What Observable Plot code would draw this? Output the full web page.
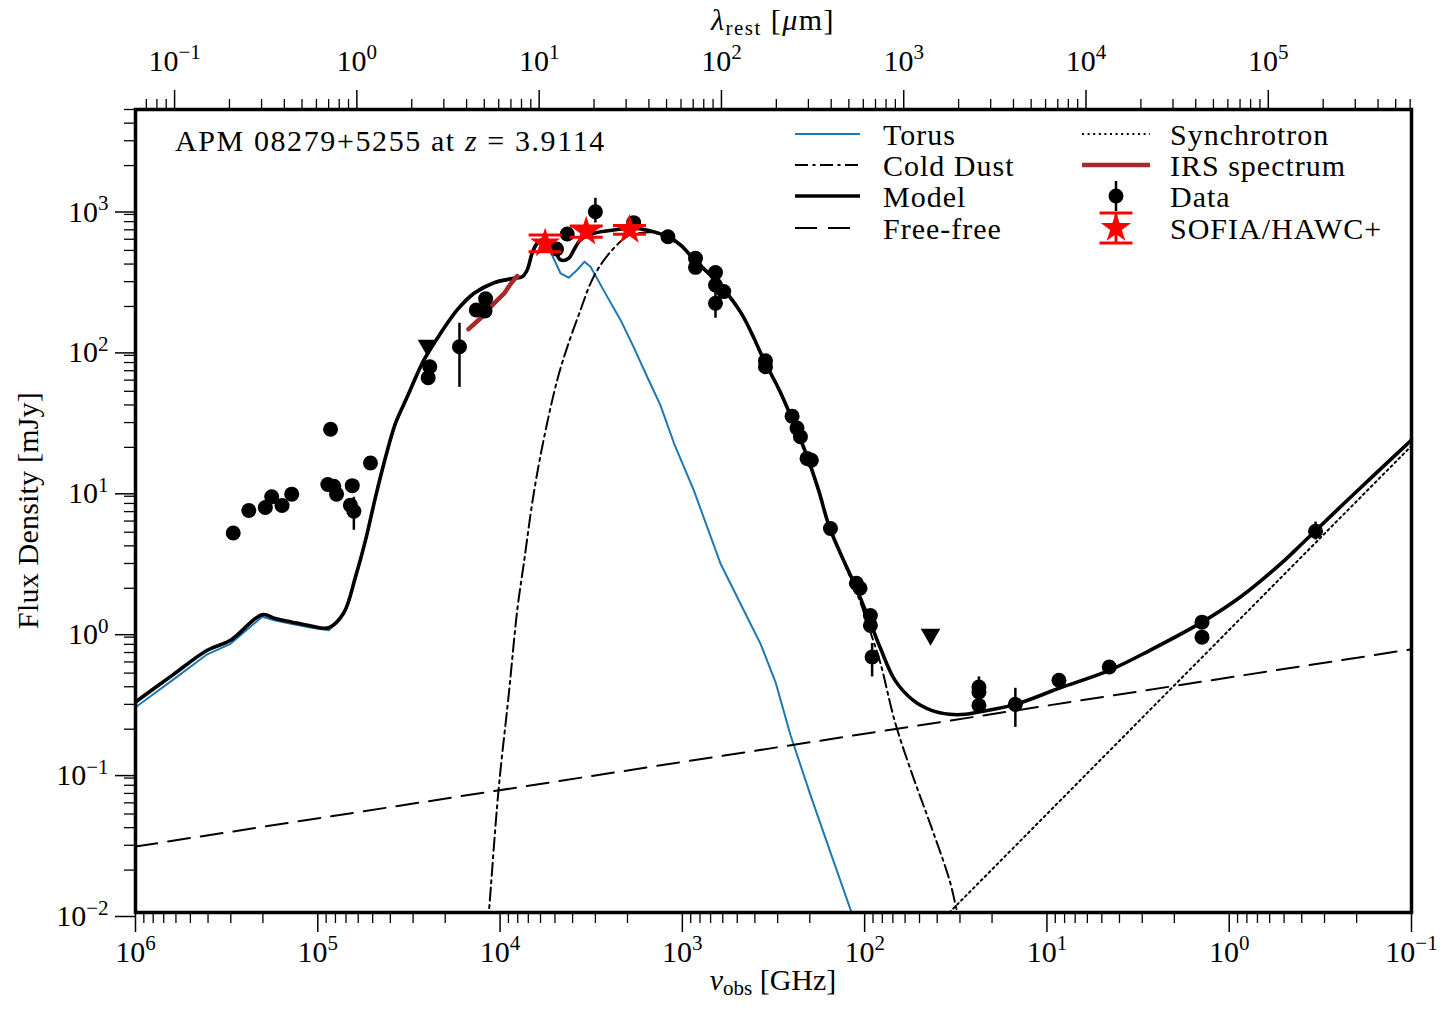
<!DOCTYPE html>
<html>
<head>
<meta charset="utf-8">
<script src="https://cdn.jsdelivr.net/npm/d3@7"></script>
<script src="https://cdn.jsdelivr.net/npm/@observablehq/plot@0.6"></script>
<style>
  html, body { margin: 0; padding: 0; background: #fff; }
  #chart svg { display: block; }
</style>
</head>
<body>
<div id="chart"></div>
<script>
// ---- Source & constants -------------------------------------------------
const REDSHIFT = 3.9114;
const C_UM_GHZ = 299792.458;            // speed of light in μm·GHz
const lamRestFromNu = nu => C_UM_GHZ / ((1 + REDSHIFT) * nu);   // same form both ways
const nuFromLamRest = lam => C_UM_GHZ / ((1 + REDSHIFT) * lam);

// ---- Model components: [ν_obs (GHz), flux density (mJy)] ----------------
const model = [
  [1e6, 0.312], [6.29e5, 0.482], [4.04e5, 0.726], [3.01e5, 0.855], [2.02e5, 1.30],
  [1.71e5, 1.22], [1.38e5, 1.15], [1.12e5, 1.09], [8.70e4, 1.05], [7.20e4, 1.34],
  [6.21e4, 2.41], [5.47e4, 4.39], [4.82e4, 8.91], [4.25e4, 17.0], [3.75e4, 29.6],
  [3.23e4, 45.7], [2.62e4, 83.2], [2.12e4, 129], [1.72e4, 189], [1.39e4, 248],
  [1.08e4, 295], [8.41e3, 317], [7.56e3, 325], [7.10e3, 363], [6.67e3, 477],
  [6.26e3, 561], [5.63e3, 602], [5.07e3, 517], [4.66e3, 428], [4.20e3, 440],
  [3.94e3, 503], [3.62e3, 593], [3.06e3, 661], [2.38e3, 698], [1.85e3, 718],
  [1.44e3, 679], [1.21e3, 628], [1.02e3, 546], [847, 420], [658, 308],
  [480, 183], [350, 79.3], [290, 49.3], [246, 30.2], [208, 17.6],
  [179, 9.94], [156, 5.43], [129, 3.06], [110, 1.94], [89.7, 1.01],
  [81.9, 0.750], [68.1, 0.444], [54.1, 0.320], [43.0, 0.272], [34.2, 0.255],
  [28.0, 0.255], [23.6, 0.265], [14.9, 0.300], [8.59, 0.390], [4.55, 0.523],
  [2.72, 0.726], [1.41, 1.15], [0.861, 1.75], [0.497, 3.16], [0.407, 4.04],
  [0.216, 8.86], [0.1, 22.5]
];

const torus = [
  [1e6, 0.286], [6.29e5, 0.444], [4.04e5, 0.680], [3.01e5, 0.807], [2.02e5, 1.255],
  [1.71e5, 1.18], [1.38e5, 1.116], [1.12e5, 1.057], [8.70e4, 1.006], [7.20e4, 1.31],
  [6.21e4, 2.37], [5.47e4, 4.33], [4.82e4, 8.80], [4.25e4, 16.8], [3.75e4, 29.3],
  [3.23e4, 45.2], [2.62e4, 82.4], [2.12e4, 128], [1.72e4, 187], [1.39e4, 246],
  [1.08e4, 293], [8.41e3, 315], [7.56e3, 323], [7.10e3, 360], [6.67e3, 472],
  [6.26e3, 552], [5.63e3, 575], [5.29e3, 489], [4.66e3, 344], [4.20e3, 320],
  [3.78e3, 363], [3.44e3, 416], [3.19e3, 383], [2.58e3, 234], [2.18e3, 160],
  [1.85e3, 103], [1.56e3, 63.4], [1.32e3, 39.9], [1.11e3, 21.3], [866, 9.94],
  [618, 3.00], [423, 1.12], [373, 0.810], [308, 0.430], [255, 0.181],
  [198, 0.0678], [154, 0.0267], [118, 0.0100], [105, 0.0065]
];

const coldDust = [
  [1.17e4, 0.0081], [1.15e4, 0.0103], [1.02e4, 0.0735], [8.95e3, 0.358], [8.05e3, 1.40],
  [7.41e3, 3.00], [6.56e3, 9.15], [5.75e3, 23.1], [4.86e3, 60.0], [4.28e3, 103],
  [3.62e3, 189], [3.19e3, 292], [2.81e3, 394], [2.38e3, 517], [2.01e3, 626],
  [1.70e3, 664], [1.43e3, 670], [1.21e3, 612], [1.02e3, 537], [847, 413],
  [658, 302], [480, 180], [350, 78], [290, 48.5], [246, 29.7],
  [208, 17.3], [179, 9.8], [156, 5.34], [129, 2.99], [110, 1.84],
  [92.9, 0.974], [81.9, 0.587], [68.1, 0.224], [54.1, 0.091], [43.0, 0.0402],
  [34.2, 0.0169], [31.0, 0.0100], [29.8, 0.0085]
];

const freeFree = [[1e6, 0.0294], [0.1, 0.738]];
const synchrotron = [[34.3, 0.0100], [0.1, 20.5]];

const irsSpectrum = [
  [1.49e4, 138], [1.28e4, 165], [1.19e4, 180], [1.10e4, 205],
  [9.46e3, 249], [8.77e3, 288], [8.05e3, 329]
];

// ---- Photometry ------------------------------------------------------------
const photometry = [
  [2.91e5, 4.94], [2.39e5, 7.13], [1.94e5, 7.48], [1.79e5, 8.91], [1.57e5, 7.74],
  [1.39e5, 9.31], [8.51e4, 26.9], [8.81e4, 10.9], [8.17e4, 10.6], [7.89e4, 9.31],
  [6.47e4, 10.7], [6.62e4, 7.78], [6.34e4, 7.05], [5.14e4, 15.5], [2.43e4, 74.6],
  [2.48e4, 62.4], [1.67e4, 103.5], [1.35e4, 189], [1.21e4, 186], [1.20e4, 227],
  [4.90e3, 512], [4.28e3, 654], [3.00e3, 941], [1.85e3, 787], [1.20e3, 625],
  [847, 439], [847, 379], [658, 348], [658, 284], [593, 255],
  [658, 211], [350, 82.4], [350, 74.7], [250, 33.3], [235, 27.4],
  [225, 23.8], [207, 16.7], [196, 16.2], [154, 5.31], [111, 2.17],
  [106, 2.00], [93, 1.28], [93, 1.09], [91, 0.65], [23.6, 0.398],
  [23.6, 0.367], [23.6, 0.295], [14.9, 0.300], [8.59, 0.445], [4.55, 0.552],
  [1.41, 1.15], [1.41, 0.90], [0.336, 5.08]
];
// [ν, lower, upper]
const photometryErr = [
  [6.34e4, 5.16, 8.85], [1.67e4, 53.3, 152], [3.00e3, 782, 1172], [658, 165, 270],
  [91, 0.47, 0.81], [23.6, 0.28, 0.47], [14.9, 0.206, 0.39], [0.336, 4.4, 5.9]
];
const upperLimits = [[2.50e4, 101], [43.5, 0.898]];

// SOFIA/HAWC+ bands: [ν, flux, lower, upper]
const hawc = [
  [5660, 561, 490, 643],
  [3370, 679, 619, 745],
  [1950, 699, 650, 750]
];

// ---- Axis ticks ------------------------------------------------------------
const nuMajor = [1e6, 1e5, 1e4, 1e3, 1e2, 1e1, 1e0, 1e-1];
const fluxMajor = [1e-2, 1e-1, 1e0, 1e1, 1e2, 1e3];
const lamMajor = [1e-1, 1e0, 1e1, 1e2, 1e3, 1e4, 1e5];
const minorsBetween = (lo, hi, kFrom, kTo) => {
  const out = [];
  for (let k = kFrom; k <= kTo; k++)
    for (let m = 2; m <= 9; m++) {
      const v = m * Math.pow(10, k);
      if (v >= lo && v <= hi) out.push(v);
    }
  return out;
};
const nuMinor = minorsBetween(0.1, 1e6, -1, 5);
const fluxMinor = minorsBetween(0.01, 5000, -2, 3);
const lamLo = lamRestFromNu(1e6), lamHi = lamRestFromNu(0.1);
const lamMinor = minorsBetween(lamLo, lamHi, -2, 5);

const expLabel = v => {
  const e = Math.round(Math.log10(v));
  return "10^" + (e < 0 ? "\u2212" + (-e) : String(e));
};

// ---- Styling -----------------------------------------------------------------
const FONT = "'Liberation Serif','DejaVu Serif',serif";
const FS = 30;
const BLUE = "#1f77b4";
const BROWN = "#a52a2a";
const DASHDOT = "13,4.5,3,4.5";
const DASHED = "22,11";
const DOTTED = "2,3.6";

const triDown = {
  draw(ctx, size) {
    const r = Math.sqrt(size / Math.PI);
    ctx.moveTo(-1.15 * r, -r); ctx.lineTo(1.15 * r, -r); ctx.lineTo(0, r); ctx.closePath();
  }
};
const capBar = {
  draw(ctx, size) {
    const r = Math.sqrt(size / Math.PI);
    ctx.moveTo(-r, 0); ctx.lineTo(r, 0);
  }
};

const X = d => d[0], Y = d => d[1];

const chart = Plot.plot({
  width: 1455,
  height: 1015,
  marginLeft: 135,
  marginRight: 44,
  marginTop: 109,
  marginBottom: 103,
  x: {type: "log", domain: [1e6, 0.1]},
  y: {type: "log", domain: [0.01, 5000]},
  style: {fontFamily: FONT, fontSize: FS + "px", color: "black", background: "white", overflow: "visible"},
  marks: [
    // bottom axis: ν_obs
    Plot.axisX({anchor: "bottom", ticks: nuMajor, tickSize: 20, tickPadding: 8, strokeWidth: 1.5,
      tickFormat: expLabel, label: null, fontVariant: "normal"}),
    Plot.axisX({anchor: "bottom", ticks: nuMinor, tickSize: 11, strokeWidth: 1.3, tickFormat: () => "", label: null}),
    // top axis: λ_rest (ticks placed at the ν of each rest wavelength)
    Plot.axisX({anchor: "top", ticks: lamMajor.map(nuFromLamRest), tickSize: 20, strokeWidth: 1.5,
      tickFormat: () => "", label: null}),
    Plot.axisX({anchor: "top", ticks: lamMinor.map(nuFromLamRest), tickSize: 11, strokeWidth: 1.3, tickFormat: () => "", label: null}),
    Plot.text(lamMajor, {x: d => nuFromLamRest(d), text: d => expLabel(d), frameAnchor: "top",
      dy: -39, lineAnchor: "bottom", textAnchor: "middle", fill: "black"}),
    // left axis: flux density
    Plot.axisY({anchor: "left", ticks: fluxMajor, tickSize: 20, tickPadding: 7, strokeWidth: 1.5, dy: 4,
      tickFormat: expLabel, label: null, fontVariant: "normal"}),
    Plot.axisY({anchor: "left", ticks: fluxMinor, tickSize: 11, strokeWidth: 1.3, tickFormat: () => "", label: null}),

    // model components
    Plot.line(torus, {x: X, y: Y, stroke: BLUE, strokeWidth: 2, clip: true}),
    Plot.line(coldDust, {x: X, y: Y, stroke: "black", strokeWidth: 2, strokeDasharray: DASHDOT, curve: "catmull-rom", clip: true}),
    Plot.line(model, {x: X, y: Y, stroke: "black", strokeWidth: 3.6, curve: "catmull-rom", clip: true}),
    Plot.line(freeFree, {x: X, y: Y, stroke: "black", strokeWidth: 2, strokeDasharray: DASHED, clip: true}),
    Plot.line(synchrotron, {x: X, y: Y, stroke: "black", strokeWidth: 2, strokeDasharray: DOTTED, clip: true}),
    Plot.line(irsSpectrum, {x: X, y: Y, stroke: BROWN, strokeWidth: 4.5, clip: true}),

    // photometry
    Plot.ruleX(photometryErr, {x: d => d[0], y1: d => d[1], y2: d => d[2], stroke: "black", strokeWidth: 2.5}),
    Plot.dot(photometry, {x: X, y: Y, r: 7.5, fill: "black"}),
    Plot.dot(upperLimits, {x: X, y: Y, r: 8.5, symbol: triDown, fill: "black"}),

    // SOFIA/HAWC+
    Plot.ruleX(hawc, {x: d => d[0], y1: d => d[2], y2: d => d[3], stroke: "red", strokeWidth: 3}),
    Plot.dot(hawc, {x: d => d[0], y: d => d[2], r: 16.5, symbol: capBar, stroke: "red", strokeWidth: 3, fill: "none"}),
    Plot.dot(hawc, {x: d => d[0], y: d => d[3], r: 16.5, symbol: capBar, stroke: "red", strokeWidth: 3, fill: "none"}),
    Plot.dot(hawc, {x: d => d[0], y: d => d[1], r: 9.5, symbol: "star", fill: "red"}),

    Plot.frame({stroke: "black", strokeWidth: 3.5})
  ]
});

document.getElementById("chart").append(chart);

// ---- Rich text (superscripts, subscripts, italics) --------------------------
function richText(sel, str, base) {
  sel.text(null);
  const parts = str.split(/(\^\{[^}]*\}|_\{[^}]*\}|\*[^*]*\*)/g).filter(s => s.length);
  let shift = 0;
  for (const p of parts) {
    let t = p, scale = null, off = 0, italic = false;
    if (p.startsWith("^{")) { t = p.slice(2, -1); scale = 0.7; off = -0.38 * base; }
    else if (p.startsWith("_{")) { t = p.slice(2, -1); scale = 0.7; off = 0.18 * base; }
    else if (p.startsWith("*")) { t = p.slice(1, -1); italic = true; }
    const ts = sel.append("tspan").text(t);
    if (off - shift !== 0) ts.attr("dy", off - shift);
    shift = off;
    if (scale) ts.attr("font-size", scale * base);
    if (italic) ts.attr("font-style", "italic");
  }
}

const svg = d3.select(chart);
svg.selectAll("text").each(function () {
  const m = /^10\^(.+)$/.exec(this.textContent);
  if (m) richText(d3.select(this), "10^{" + m[1] + "}", FS);
});

const ann = svg.append("g").attr("font-family", FONT).attr("font-size", FS).attr("fill", "black");

function addText(x, y, str, anchor = "start", rotate = 0, spacing = 0) {
  const t = ann.append("text")
    .attr("text-anchor", anchor)
    .attr("letter-spacing", spacing)
    .attr("transform", `translate(${x},${y})` + (rotate ? ` rotate(${rotate})` : ""));
  richText(t, str, FS);
  return t;
}

// axis titles and source label
addText(773, 990, "*\u03bd*_{obs} [GHz]", "middle");
addText(773, 30, "*\u03bb*_{rest} [*\u03bc*m]", "middle", 0, 1.5);
addText(38, 510.5, "Flux Density [mJy]", "middle", -90, 0.2);
addText(175, 151, "APM 08279+5255 at *z* = 3.9114", "start", 0, 1.6);

// ---- Legend -------------------------------------------------------------------
const legendCols = [{x0: 795, x1: 860, tx: 883}, {x0: 1082, x1: 1150, tx: 1170}];
const legendRows = [134, 165, 196, 228];
const legendItems = [
  {col: 0, row: 0, label: "Torus", stroke: BLUE, width: 2},
  {col: 0, row: 1, label: "Cold Dust", stroke: "black", width: 2, dash: DASHDOT},
  {col: 0, row: 2, label: "Model", stroke: "black", width: 3.6},
  {col: 0, row: 3, label: "Free-free", stroke: "black", width: 2, dash: DASHED},
  {col: 1, row: 0, label: "Synchrotron", stroke: "black", width: 2, dash: DOTTED},
  {col: 1, row: 1, label: "IRS spectrum", stroke: BROWN, width: 4.5},
  {col: 1, row: 2, label: "Data", marker: "data"},
  {col: 1, row: 3, label: "SOFIA/HAWC+", marker: "hawc"}
];
const leg = svg.append("g").attr("font-family", FONT).attr("font-size", FS);
for (const it of legendItems) {
  const c = legendCols[it.col], y = legendRows[it.row];
  const cx = (c.x0 + c.x1) / 2;
  if (it.marker === "data") {
    leg.append("line").attr("x1", cx).attr("x2", cx).attr("y1", y - 15).attr("y2", y + 15)
      .attr("stroke", "black").attr("stroke-width", 2.5);
    leg.append("circle").attr("cx", cx).attr("cy", y).attr("r", 7.5).attr("fill", "black");
  } else if (it.marker === "hawc") {
    leg.append("line").attr("x1", cx).attr("x2", cx).attr("y1", y - 15).attr("y2", y + 15)
      .attr("stroke", "red").attr("stroke-width", 3);
    for (const yy of [y - 15, y + 15])
      leg.append("line").attr("x1", cx - 16.5).attr("x2", cx + 16.5).attr("y1", yy).attr("y2", yy)
        .attr("stroke", "red").attr("stroke-width", 3);
    leg.append("path").attr("d", d3.symbol(d3.symbolStar, Math.PI * 9.5 * 9.5)())
      .attr("transform", `translate(${cx},${y})`).attr("fill", "red");
  } else {
    const ln = leg.append("line").attr("x1", c.x0).attr("x2", c.x1).attr("y1", y).attr("y2", y)
      .attr("stroke", it.stroke).attr("stroke-width", it.width);
    if (it.dash) ln.attr("stroke-dasharray", it.dash);
  }
  leg.append("text").attr("x", c.tx).attr("y", y + 11)
    .attr("text-anchor", "start").attr("letter-spacing", 1).attr("fill", "black").text(it.label);
}
</script>
</body>
</html>
